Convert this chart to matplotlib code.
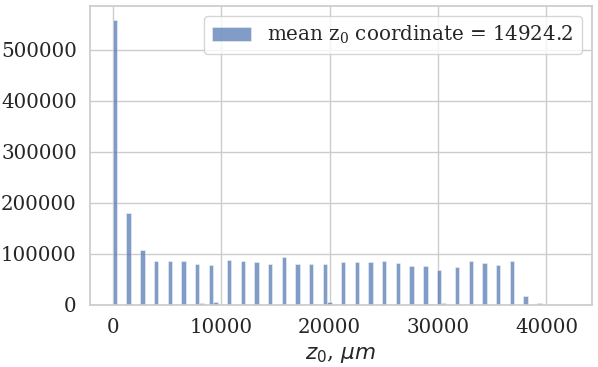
import numpy as np
import matplotlib
matplotlib.use("Agg")
from matplotlib import pyplot as plt
import seaborn as sns

# z0 values (bin centres, um) and the counts
z0_vals = [210, 1472, 2735, 3997, 5259, 6521, 7783, 8204, 9045, 9466,
           10728, 11990, 13252, 14514, 15776, 17038, 18300, 18721, 19563, 19983,
           21245, 22507, 23770, 25032, 26294, 27556, 28818, 29239, 30080, 30501,
           31763, 33025, 34287, 35549, 36811, 38073, 39335]
counts = [558000, 180800, 107000, 86200, 86800, 86200, 80900, 4000, 77500, 6000,
          87400, 86000, 84800, 79500, 94700, 80200, 80900, 2500, 79500, 6000,
          84800, 83500, 83500, 85500, 82200, 76900, 76900, 2000, 69000, 4500,
          74300, 85500, 82800, 77500, 86800, 18300, 4500]
z0_range = (0, 42070)
n_bins = 100
mean_z0 = 14924.2

sns.set_theme(style="whitegrid")
plt.rcParams["font.family"] = ["DejaVu Serif"]

fig = plt.figure(figsize=(5.98, 3.67), dpi=100)
ax = fig.add_axes([0.1505, 0.169, 0.839, 0.815])

ax.hist(z0_vals, bins=n_bins, range=z0_range, weights=counts,
        color="#4C72B0", alpha=0.7, linewidth=0.4,
        label=rf"mean $\mathregular{{z_0}}$ coordinate = {mean_z0}")

ax.set_xlabel(r"$z_0$, $\mu m$", fontsize=15.6)
ax.tick_params(labelsize=14.3)
ax.legend(loc="upper right", fontsize=14.3)

fig.savefig("out.png", dpi=100)
